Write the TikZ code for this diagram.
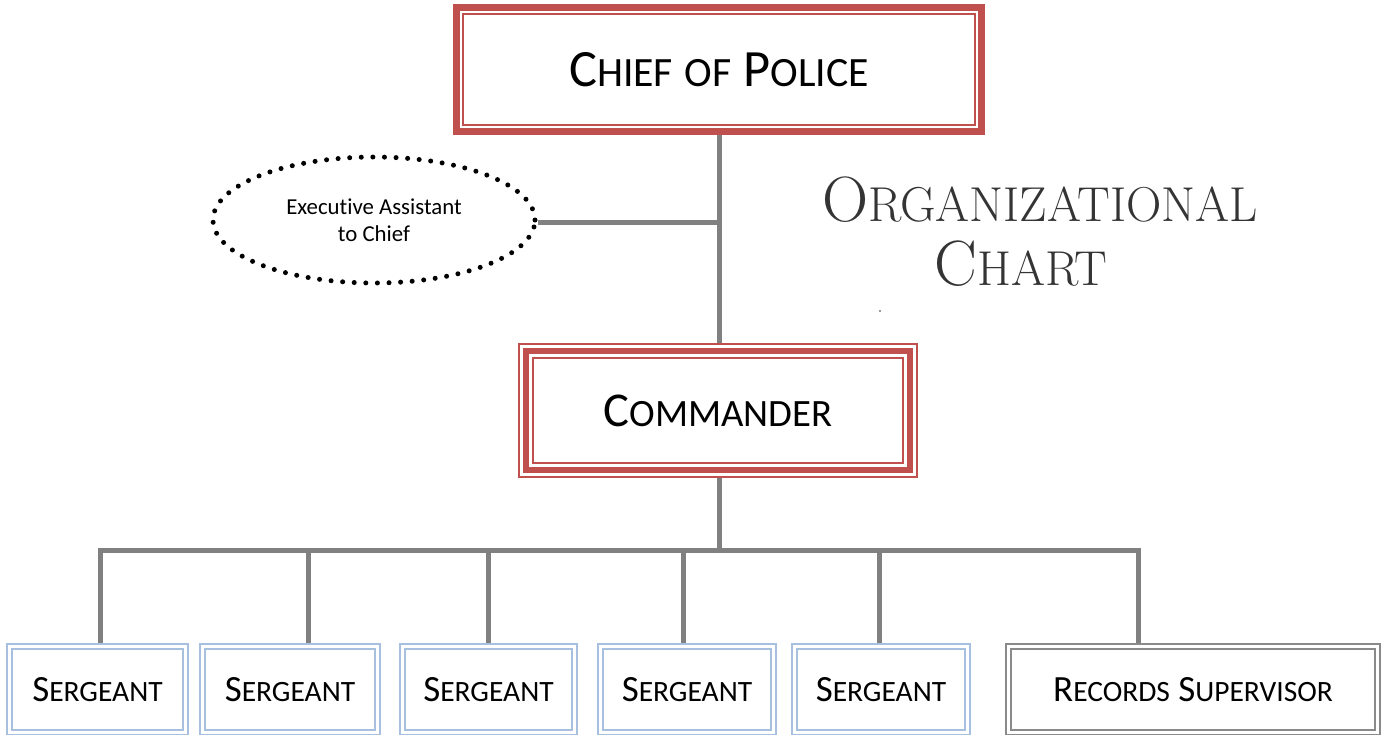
\documentclass[tikz,border=0pt]{standalone}
\usepackage{fontspec}
\newfontfamily\calibri[Ligatures=NoCommon]{Carlito}
\usetikzlibrary{calc,shapes.geometric}

\definecolor{chiefred}{RGB}{192,80,77}
\definecolor{sgtblue}{RGB}{168,192,224}
\definecolor{recgray}{RGB}{138,138,138}
\definecolor{linegray}{RGB}{128,128,128}
\definecolor{titlegray}{RGB}{52,52,52}

% fake small caps: big first letter, rest in \scsz
\newcommand\capsc[2]{#1{\scsz\MakeUppercase{#2}}}

\tikzset{
	chiefbox/.style={draw=chiefred, line width=7pt, minimum width=525pt, minimum height=124pt,
		font=\calibri\fontsize{52.4}{60}\selectfont\def\scsz{\fontsize{41.7}{50}\selectfont},
		path picture={\draw[chiefred, line width=2pt]
			([shift={(6.5pt,-6.5pt)}]path picture bounding box.north west) rectangle
			([shift={(-6.5pt,6.5pt)}]path picture bounding box.south east);}},
	cmdbox/.style={draw=chiefred, line width=2pt, minimum width=398pt, minimum height=133pt,
		font=\calibri\fontsize{48.6}{60}\selectfont\def\scsz{\fontsize{38.7}{50}\selectfont},
		path picture={\draw[chiefred, line width=6pt]
			([shift={(7pt,-7pt)}]path picture bounding box.north west) rectangle
			([shift={(-7pt,7pt)}]path picture bounding box.south east);
			\draw[chiefred, line width=2pt]
			([shift={(14pt,-14pt)}]path picture bounding box.north west) rectangle
			([shift={(-14pt,14pt)}]path picture bounding box.south east);}},
	lowbox/.style={line width=2pt, minimum height=91pt,
		font=\calibri\fontsize{37}{44}\selectfont\def\scsz{\fontsize{29.5}{36}\selectfont},
		path picture={\draw[#1, line width=2pt]
			([shift={(5pt,-5pt)}]path picture bounding box.north west) rectangle
			([shift={(-5pt,5pt)}]path picture bounding box.south east);}},
	sgtbox/.style={lowbox=sgtblue, draw=sgtblue},
	recbox/.style={lowbox=recgray, draw=recgray},
	conn/.style={draw=linegray, line width=5pt},
	dotted oval/.style={ellipse, draw=black, line width=5pt, line cap=round,
		dash pattern=on 0pt off 11.6pt, minimum width=322pt, minimum height=126pt,
		font=\calibri\fontsize{22.8}{27}\selectfont, align=center, inner sep=0pt},
	titletext/.style={text=titlegray,
		font=\fontsize{64}{60}\selectfont\def\scsz{\fontsize{49}{50}\selectfont}}
}

\begin{document}
\begin{tikzpicture}[x=1pt,y=-1pt]
	\useasboundingbox (0,0) rectangle (1386,734);
	
	%top
	\node[chiefbox] (chief) at (719,69.5) {\capsc{C}{hief} {\scsz OF} \capsc{P}{olice}};
	\node[cmdbox] (cmd) at (718,410.5) {\capsc{C}{ommander}};
	\node[dotted oval] (asst) at (374,220) {Executive Assistant\\to Chief};
	
	%title
	\node[titletext] (title1) at (1040,200) {\capsc{O}{rganizational}};
	\node[titletext] (title2) at (1021,264) {\capsc{C}{hart}};
	\fill[titlegray] (880,311) circle (0.8pt);
	
	%bottom row
	\node[sgtbox, minimum width=181pt] (sgt1) at (97.5,689.5) {\capsc{S}{ergeant}};
	\node[sgtbox, minimum width=180pt] (sgt2) at (290,689.5) {\capsc{S}{ergeant}};
	\node[sgtbox, minimum width=177pt] (sgt3) at (488.5,689.5) {\capsc{S}{ergeant}};
	\node[sgtbox, minimum width=178pt] (sgt4) at (687,689.5) {\capsc{S}{ergeant}};
	\node[sgtbox, minimum width=178pt] (sgt5) at (881,689.5) {\capsc{S}{ergeant}};
	\node[recbox, minimum width=374pt] (rec) at (1193,689.5) {\capsc{R}{ecords} \capsc{S}{upervisor}};
	
	%lines
	\coordinate (asstjoin) at (719,222);
	\draw[conn] (chief.south -| asstjoin) -- (cmd.north -| asstjoin);
	\draw[conn] (asst.east |- asstjoin) -- (asstjoin);
	
	\coordinate (busmid) at (719,550);
	\coordinate (bus1) at (100,550);
	\coordinate (bus2) at (308,550);
	\coordinate (bus3) at (488,550);
	\coordinate (bus4) at (683,550);
	\coordinate (bus5) at (879,550);
	\coordinate (bus6) at (1138,550);
	\draw[conn] (cmd.south -| busmid) -- (busmid);
	\draw[conn] ([xshift=-2.5pt]bus1) -- ([xshift=2.5pt]bus6);
	\draw[conn] (bus1) -- (bus1 |- sgt1.north);
	\draw[conn] (bus2) -- (bus2 |- sgt2.north);
	\draw[conn] (bus3) -- (bus3 |- sgt3.north);
	\draw[conn] (bus4) -- (bus4 |- sgt4.north);
	\draw[conn] (bus5) -- (bus5 |- sgt5.north);
	\draw[conn] (bus6) -- (bus6 |- rec.north);
\end{tikzpicture}
\end{document}
